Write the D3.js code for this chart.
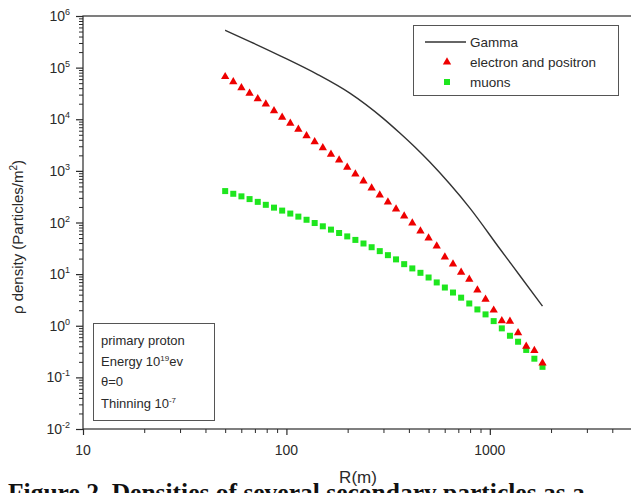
<!DOCTYPE html>
<html><head><meta charset="utf-8">
<script src="https://cdn.jsdelivr.net/npm/d3@7"></script>
<style>body{margin:0;background:#fff}svg{display:block}text{font-family:"Liberation Sans",Arial,sans-serif;fill:#2a2a2a}</style>
</head><body><svg id="c" width="631" height="493"></svg>
<script>
// ---- data ----
const radius = [50,54.8,60.1,65.9,72.3,79.2,86.9,95.3,104.5,114.5,125.6,137.7,151.0,165.6,181.6,199.1,218.3,239.3,262.4,287.7,315.5,345.9,379.3,415.9,456.0,500.0,548.2,601.1,659.1,722.7,792.5,868.9,952.7,1044.6,1145.4,1255.9,1377.0,1509.9,1655.6,1815.3];
const electrons = [66700,53300,40800,31800,24900,19700,14600,10900,8330,6370,4790,3660,2800,2090,1620,1170,867,634,464,340,248,182,133,97.3,68.1,49.9,34.9,21.4,15.6,10.8,7.9,4.9,3.24,2.0,1.24,1.22,0.73,0.40,0.33,0.19];
const muons = [406,360,321,284,251,220,194,170,149,130,113,97.7,84.4,72.8,62.6,53.8,46.0,39.2,33.2,27.9,23.3,19.3,15.6,12.9,10.6,8.6,6.9,5.5,4.4,3.5,2.7,2.07,1.66,1.23,0.89,0.64,0.49,0.34,0.23,0.16];
const gammaR = [50,66.2,96.1,141.2,205,298,361,428,507,636,798,1120,1403,1815];
const gammaV = [530000,320000,160000,75000,32000,10500,5400,2890,1480,555,190,31,9.4,2.4];
const xMajor = [10,100,1000];
const xMinor = [20,30,40,50,60,70,80,90,200,300,400,500,600,700,800,900,2000,3000,4000];
const yExp = [-2,-1,0,1,2,3,4,5,6];
const legendLabels = ["Gamma","electron and positron","muons"];

const svg = d3.select("#c");
const x = d3.scaleLog().domain([10,5000]).range([83,632]);
const y = d3.scaleLog().domain([0.01,1e6]).range([429,16]);
const ink="#2a2a2a";

// frame
svg.append("rect").attr("x",83).attr("y",16).attr("width",560).attr("height",413)
  .attr("fill","none").attr("stroke",ink).attr("stroke-width",1.2);

// y axis
const yMinor=[];
yExp.slice(0,-1).forEach(e=>{for(let k=2;k<=9;k++) yMinor.push(k*Math.pow(10,e));});
const yMajor=yExp.map(e=>Math.pow(10,e));
svg.append("g").attr("transform","translate(83,0)")
  .call(d3.axisLeft(y).tickValues(yMajor).tickFormat("").tickSize(7).tickSizeOuter(0))
  .call(g=>g.select(".domain").remove()).selectAll("line").attr("stroke",ink).attr("stroke-width",1.2);
svg.append("g").attr("transform","translate(83,0)")
  .call(d3.axisLeft(y).tickValues(yMinor).tickFormat("").tickSize(4).tickSizeOuter(0))
  .call(g=>g.select(".domain").remove()).selectAll("line").attr("stroke",ink);
yExp.forEach(e=>{
  const t=svg.append("text").attr("x",70).attr("y",y(Math.pow(10,e))+5).attr("text-anchor","end").style("font-size","14px");
  t.append("tspan").text("10");
  t.append("tspan").attr("dy",-6).style("font-size","9px").text(e);
});

// x axis
svg.append("g").attr("transform","translate(0,429)")
  .call(d3.axisBottom(x).tickValues(xMajor).tickFormat("").tickSize(6).tickSizeOuter(0))
  .call(g=>g.select(".domain").remove()).selectAll("line").attr("stroke",ink).attr("stroke-width",1.2);
svg.append("g").attr("transform","translate(0,429)")
  .call(d3.axisBottom(x).tickValues(xMinor).tickFormat("").tickSize(4).tickSizeOuter(0))
  .call(g=>g.select(".domain").remove()).selectAll("line").attr("stroke",ink);
xMajor.forEach(v=>{
  svg.append("text").attr("x",x(v)).attr("y",455).attr("text-anchor","middle").style("font-size","14px").text(v);
});

// titles
svg.append("text").attr("x",358).attr("y",483).attr("text-anchor","middle").style("font-size","17px").text("R(m)");
const yt=svg.append("text").attr("transform","translate(23,237) rotate(-90)").attr("text-anchor","middle").style("font-size","15px");
yt.append("tspan").text("ρ density (Particles/m");
yt.append("tspan").attr("dy",-6).style("font-size","10px").text("2");
yt.append("tspan").attr("dy",6).text(")");

// gamma line
svg.append("path").datum(gammaR.map((r,i)=>[x(r),y(gammaV[i])]))
  .attr("d",d3.line().curve(d3.curveMonotoneX)).attr("fill","none").attr("stroke","#333").attr("stroke-width",1.4);

// muons
const sq=6;
svg.append("g").selectAll("rect").data(muons).join("rect")
  .attr("x",(d,i)=>x(radius[i])-sq/2).attr("y",d=>y(d)-sq/2).attr("width",sq).attr("height",sq).attr("fill","#1ee61e");
// electrons
const tri=d3.symbol().type(d3.symbolTriangle).size(30);
svg.append("g").selectAll("path").data(electrons).join("path")
  .attr("transform",(d,i)=>`translate(${x(radius[i])},${y(d)})`).attr("d",tri).attr("fill","#ee0000");

// legend
svg.append("rect").attr("x",413.5).attr("y",25.5).attr("width",205).attr("height",70).attr("fill","#fff").attr("stroke","#555");
svg.append("line").attr("x1",425).attr("x2",466).attr("y1",42).attr("y2",42).attr("stroke","#333").attr("stroke-width",1.4);
svg.append("path").attr("transform","translate(447,62)").attr("d",tri).attr("fill","#ee0000");
svg.append("rect").attr("x",444).attr("y",79).attr("width",sq).attr("height",sq).attr("fill","#1ee61e");
legendLabels.forEach((l,i)=>{
  svg.append("text").attr("x",470).attr("y",47+i*20).style("font-size","13.5px").text(l);
});

// info box
svg.append("rect").attr("x",93.5).attr("y",323.5).attr("width",121).attr("height",97).attr("fill","#fff").attr("stroke","#555");
const info=svg.append("g").style("font-size","13px");
info.append("text").attr("x",101).attr("y",345).text("primary proton");
const e1=info.append("text").attr("x",101).attr("y",366);
e1.append("tspan").text("Energy 10");e1.append("tspan").attr("dy",-5).style("font-size","8px").text("19");
e1.append("tspan").attr("dy",5).text("ev");
info.append("text").attr("x",101).attr("y",386).text("θ=0");
const e2=info.append("text").attr("x",101).attr("y",408);
e2.append("tspan").text("Thinning 10");e2.append("tspan").attr("dy",-5).style("font-size","8px").text("-7");

// caption
svg.append("text").attr("x",8).attr("y",501).style("font-family","'Liberation Serif','Times New Roman',serif")
  .style("font-weight","bold").style("font-size","25.5px").style("fill","#111")
  .text("Figure 2. Densities of several secondary particles as a");
</script></body></html>
